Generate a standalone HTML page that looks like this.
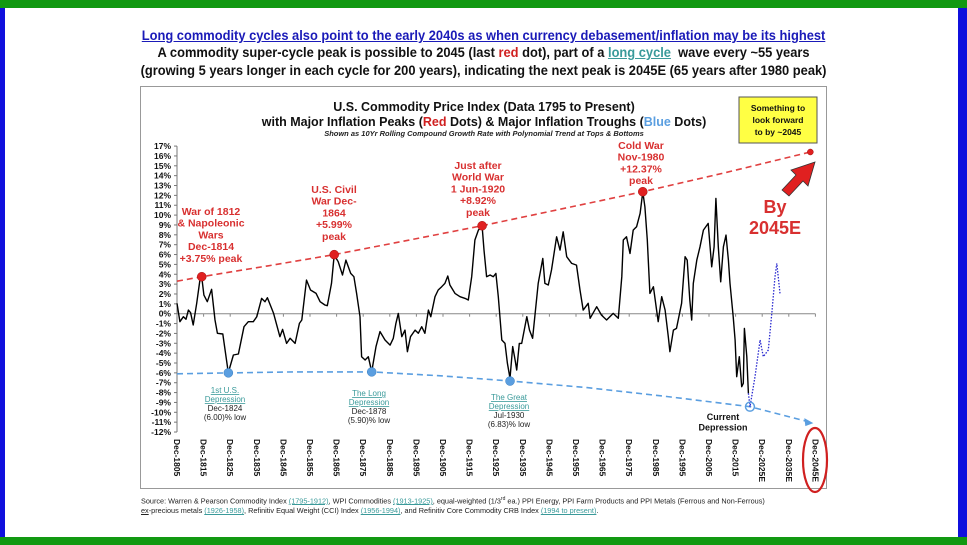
<!DOCTYPE html>
<html><head><meta charset="utf-8"><style>
body{margin:0;width:967px;height:545px;background:#fff;overflow:hidden;font-family:"Liberation Sans",sans-serif;position:relative}
.h{position:absolute;left:0;width:967px;text-align:center;font-weight:bold;color:#111;font-family:"Liberation Sans Narrow","Liberation Sans",sans-serif;transform:scaleX(0.92);transform-origin:484px 0}
</style></head><body>
<div style="position:absolute;left:0;top:0;width:967px;height:8px;background:#119911"></div>
<div style="position:absolute;left:0;top:537px;width:967px;height:8px;background:#119911"></div>
<div style="position:absolute;left:0;top:8px;width:5px;height:529px;background:#1010dd"></div>
<div style="position:absolute;left:958px;top:8px;width:9px;height:529px;background:#1010dd"></div>
<div class="h" style="top:27px;font-size:14px;color:#1a1ab8;text-decoration:underline">Long commodity cycles also point to the early 2040s as when currency debasement/inflation may be its highest</div>
<div class="h" style="top:44px;font-size:14px">A commodity super-cycle peak is possible to 2045 (last <span style="color:#d02020">red</span> dot), part of a <span style="color:#3a9a9a;text-decoration:underline">long cycle</span>&nbsp; wave every ~55 years</div>
<div class="h" style="top:62px;font-size:14px">(growing 5 years longer in each cycle for 200 years), indicating the next peak is 2045E (65 years after 1980 peak)</div>
<div style="position:absolute;left:140px;top:86px;width:687px;height:403px;border:1px solid #999;box-sizing:border-box"></div>
<svg id="c" width="967" height="545" style="position:absolute;left:0;top:0" font-family="Liberation Sans, sans-serif"></svg>
<div style="position:absolute;left:141px;top:494px;font-size:7.3px;color:#222;line-height:10px;width:700px">Source: Warren &amp; Pearson Commodity Index <u style="color:#3a9a9a">(1795-1912)</u>, WPI Commodities <u style="color:#3a9a9a">(1913-1925)</u>, equal-weighted (1/3<sup style="font-size:5px">rd</sup> ea.) PPI Energy, PPI Farm Products and PPI Metals (Ferrous and Non-Ferrous)<br><u>ex</u>-precious metals <u style="color:#3a9a9a">(1926-1958)</u>, Refinitiv Equal Weight (CCI) Index <u style="color:#3a9a9a">(1956-1994)</u>, and Refinitiv Core Commodity CRB Index <u style="color:#3a9a9a">(1994 to present)</u>.</div>
<script>
const years=[1805.9,1807,1808.3,1809.3,1810.2,1811,1812,1813.3,1814.5,1815.2,1816,1817.3,1818.9,1820.2,1821.1,1823.1,1825.2,1827.1,1829,1831.1,1832.7,1834.6,1835.9,1837.7,1839,1839.9,1842.2,1844.6,1845.6,1847.1,1848.4,1850.3,1851.9,1852.8,1854.6,1856.1,1858.2,1859.7,1861.5,1862.4,1864,1865,1866.5,1868.1,1869.4,1871.2,1872.4,1873.4,1874.7,1875.3,1876.6,1877.8,1879.1,1880.7,1882.2,1884.1,1886,1887.2,1888.2,1889.1,1890.4,1891.6,1892.5,1893.7,1895.4,1896.6,1897.9,1899.1,1900.4,1901.3,1902.9,1904.1,1905.4,1906.6,1907.7,1908.5,1910.4,1912.3,1914.2,1915.4,1916.7,1917.9,1919.2,1920.6,1921.3,1922.3,1923.6,1924.8,1925.8,1926.7,1928,1929.2,1930.1,1931.1,1932.1,1933,1933.6,1934.6,1935.5,1937.4,1938.4,1939.6,1941.7,1943.4,1944.2,1945.5,1946.7,1948.6,1949.9,1951.1,1952.4,1954.3,1956.1,1957.4,1958.6,1960.5,1961.2,1963.7,1965.5,1967.4,1969.9,1971.8,1973.1,1973.7,1974.9,1976.2,1977.4,1978.7,1980,1981,1981.8,1982.7,1983.7,1985,1986.2,1986.8,1988.1,1989.4,1990.6,1991.2,1992.5,1993.7,1995.6,1996.9,1997.7,1998.7,1999.4,2000,2001.3,2002.5,2003.8,2005.6,2006.9,2007.8,2008.5,2009.4,2010.3,2011.3,2012.3,2013.2,2013.8,2015,2015.7,2016.3,2017.3,2018.2,2018.8,2019.2,2020.1,2020.7];
const values=[1.05,-0.81,-0.3,-0.57,0.37,0.1,-1.15,1.05,3.41,3.75,1.89,1.22,2.47,-0.64,-1.99,-2.06,-5.98,-4.19,-4.09,-1.32,-0.81,-0.81,-0.3,1.55,1.22,1.62,0.03,-2.33,-1.59,-3.01,-2.5,-3.01,-0.98,-0.64,3.41,2.4,2.06,1.22,0.88,0.81,3.07,5.95,5.27,3.92,5.44,4.09,3.75,2.06,-0.3,-4.36,-4.7,-4.36,-5.88,-3.34,-1.82,-2.67,-3.18,-2.5,-0.98,0.03,-2.33,-1.66,-3.85,-2.33,-1.66,-1.99,-1.32,-1.99,0.37,-0.3,1.72,2.4,2.74,3.07,3.82,2.91,2.06,1.72,1.55,1.39,3.75,7.47,8.48,8.89,6.45,3.75,3.92,3.75,4.09,1.72,-2.67,-3.01,-5.03,-6.55,-3.34,-4.7,-5.71,-3.01,-3.01,-0.3,-1.66,-2.5,3.07,5.61,3.07,2.91,4.43,7.8,6.45,8.31,5.78,5.1,4.93,2.4,0.37,1.05,-0.47,0.71,-0.14,-0.64,0.03,-0.47,3.75,7.47,7.8,6.11,8.48,8.82,10.17,12.36,10.84,7.47,2.06,2.74,0.37,-0.81,1.72,0.37,-2.33,-3.85,-1.66,-1.49,1.05,5.78,5.44,1.39,-0.64,3.07,5.44,6.79,8.48,9.16,4.76,6.79,11.69,6.79,3.24,6.79,7.97,5.44,3.07,-0.3,-2.67,-6.39,-4.36,-7.4,-7.06,-1.49,-4.36,-8.07];
const projYears=[2020.7,2021.3,2023.2,2025.1,2026.3,2028.2,2029.5,2030.7,2031.4,2032.6];
const projValues=[-8.07,-9.43,-6.39,-2.67,-4.36,-3.68,0.03,3.75,5.1,2.06];
const peakYears=[1815.2,1865,1920.6,1981,2044];
const peakValues=[3.75,5.99,8.92,12.37,16.4];
const redTrendYears=[1805.9,1815.2,1840,1865,1892,1920.6,1950,1981,2012,2044];
const redTrendValues=[3.3,3.75,4.85,5.99,7.4,8.92,10.6,12.37,14.3,16.4];
const troughYears=[1825.2,1879.1,1931.1,2021.3];
const troughValues=[-6.0,-5.9,-6.83,-9.43];
const blueTrendYears=[1805.9,1825.2,1850,1879.1,1905,1931.1,1960,1990,2021.3,2044];
const blueTrendValues=[-6.1,-6.0,-5.9,-5.9,-6.3,-6.83,-7.5,-8.4,-9.43,-11.0];
const tickYears=[1805,1815,1825,1835,1845,1855,1865,1875,1885,1895,1905,1915,1925,1935,1945,1955,1965,1975,1985,1995,2005,2015,2025,2035,2045];
const tickSuffix=["","","","","","","","","","","","","","","","","","","","","","","E","E","E"];
const yTicks=[17,16,15,14,13,12,11,10,9,8,7,6,5,4,3,2,1,0,-1,-2,-3,-4,-5,-6,-7,-8,-9,-10,-11,-12];

const X=y=>177+(y-1805.9)*2.66;
const Y=v=>313.7-v*9.86;
const S=document.getElementById('c');
const NS='http://www.w3.org/2000/svg';
function mk(t,a,p){const e=document.createElementNS(NS,t);for(const k in a)e.setAttribute(k,a[k]);(p||S).appendChild(e);return e;}
function txt(x,y,s,a,p){const e=mk('text',Object.assign({x:x,y:y},a),p);e.textContent=s;return e;}
function pts(xs,vs){return xs.map((x,i)=>X(x).toFixed(1)+','+Y(vs[i]).toFixed(1)).join(' ');}

let e;
e=txt(484,111,'U.S. Commodity Price Index (Data 1795 to Present)',{'text-anchor':'middle','font-size':12.5,'font-weight':'bold',fill:'#111'});


e=mk('text',{x:484,y:126,'text-anchor':'middle','font-size':12.5,'font-weight':'bold',fill:'#111'});


e.innerHTML='with Major Inflation Peaks (<tspan fill="#d02020">Red</tspan> Dots) &amp; Major Inflation Troughs (<tspan fill="#5a9ee0">Blue</tspan> Dots)';
e=txt(484,136,'Shown as 10Yr Rolling Compound Growth Rate with Polynomial Trend  at Tops & Bottoms',{'text-anchor':'middle','font-size':7.5,'font-weight':'bold','font-style':'italic',fill:'#222'});



const g=mk('g',{});


mk('rect',{x:739,y:97,width:78,height:46,fill:'#ffff44',stroke:'#555','stroke-width':1},g);
['Something to','look forward','to by ~2045'].forEach((s,i)=>txt(778,111+i*12,s,{'text-anchor':'middle','font-size':8.5,'font-weight':'bold',fill:'#111'},g));

e=mk('line',{x1:177,y1:Y(17),x2:177,y2:Y(-12),stroke:'#777','stroke-width':1});


yTicks.forEach(v=>{
  mk('line',{x1:174,y1:Y(v),x2:177,y2:Y(v),stroke:'#777'});
  const t=txt(171,Y(v)+3,v+'%',{'text-anchor':'end','font-size':8.5,'font-weight':'bold',fill:'#111'});
  
  
});
e=mk('line',{x1:177,y1:Y(0),x2:X(2045.9),y2:Y(0),stroke:'#888','stroke-width':1});


tickYears.forEach((yr,i)=>{
  const x=X(yr+0.9);
  mk('line',{x1:x,y1:Y(0),x2:x,y2:Y(0)+3,stroke:'#888'});
  const t=txt(0,0,'Dec-'+yr+tickSuffix[i],{'font-size':8.5,'font-weight':'bold',fill:'#111',transform:'translate('+(x-3)+',439) rotate(90)'});
  
  
});

e=mk('polyline',{points:pts(redTrendYears,redTrendValues),fill:'none',stroke:'#e04040','stroke-width':1.6,'stroke-dasharray':'6,4'});


e=mk('polyline',{points:pts(blueTrendYears,blueTrendValues),fill:'none',stroke:'#5a9ee0','stroke-width':1.6,'stroke-dasharray':'6,4'});


const ex=X(2044),ey=Y(-11);
e=mk('polygon',{points:(ex+3)+','+(ey+1)+' '+(ex-6)+','+(ey-4)+' '+(ex-5)+','+(ey+4),fill:'#5a9ee0'});



e=mk('polyline',{points:pts(years,values),fill:'none',stroke:'#000','stroke-width':1.4,'stroke-linejoin':'round'});


e=mk('polyline',{points:pts(projYears,projValues),fill:'none',stroke:'#2a2ad0','stroke-width':1.3,'stroke-dasharray':'1.5,1.5'});



peakYears.forEach((yr,i)=>{
  const c=mk('circle',{cx:X(yr),cy:Y(peakValues[i]),r:i==4?3:4.5,fill:'#e02020',stroke:'#a01010','stroke-width':0.5});
  
  
});
troughYears.forEach((yr,i)=>{
  const last=i==3;
  const c=mk('circle',{cx:X(yr),cy:Y(troughValues[i]),r:4.5,fill:last?'none':'#5a9ee0',stroke:last?'#5a9ee0':'#3a7ec0','stroke-width':last?1.5:0.5});
  
  
});

function block(lines,cx,y0,dy,attrs,name){
  const gg=mk('g',{});
  
  
  lines.forEach((l,i)=>{const a=Object.assign({x:cx,y:y0+i*dy,'text-anchor':'middle'},typeof l==='object'?l.a:attrs);const t=mk('text',a,gg);t.textContent=typeof l==='object'?l.s:l;});
}
const red={'font-size':10.5,'font-weight':'bold',fill:'#d83030'};
block(['War of 1812','& Napoleonic','Wars','Dec-1814','+3.75% peak'],211,215,11.7,red,'peak-label-1814');
block(['U.S. Civil','War Dec-','1864','+5.99%','peak'],334,193,11.7,red,'peak-label-1864');
block(['Just after','World War','1 Jun-1920','+8.92%','peak'],478,169,11.7,red,'peak-label-1920');
block(['Cold War','Nov-1980','+12.37%','peak'],641,149,11.7,red,'peak-label-1980');
const teal={'font-size':8,fill:'#3a9a9a','text-decoration':'underline'};
const dk={'font-size':8,fill:'#222'};
block([{s:'1st U.S.',a:teal},{s:'Depression',a:teal},{s:'Dec-1824',a:dk},{s:'(6.00)% low',a:dk}],225,393,9,dk,'trough-label-1824');
block([{s:'The Long',a:teal},{s:'Depression',a:teal},{s:'Dec-1878',a:dk},{s:'(5.90)% low',a:dk}],369,396,9,dk,'trough-label-1878');
block([{s:'The Great',a:teal},{s:'Depression',a:teal},{s:'Jul-1930',a:dk},{s:'(6.83)% low',a:dk}],509,400,9,dk,'trough-label-1930');
block(['Current','Depression'],723,420,10.5,{'font-size':9,'font-weight':'bold',fill:'#111'},'current-depression-label');
block(['By','2045E'],775,213,21,{'font-size':18,'font-weight':'bold',fill:'#d83030'},'by-2045e-label');

e=mk('polygon',{points:'782,190 796,175 791,170 815,162 808,186 803,181 789,196',fill:'#e02020',stroke:'#333','stroke-width':0.8});


e=mk('ellipse',{cx:815,cy:460,rx:12,ry:32,fill:'none',stroke:'#d02020','stroke-width':2.2});


</script>
</body></html>
